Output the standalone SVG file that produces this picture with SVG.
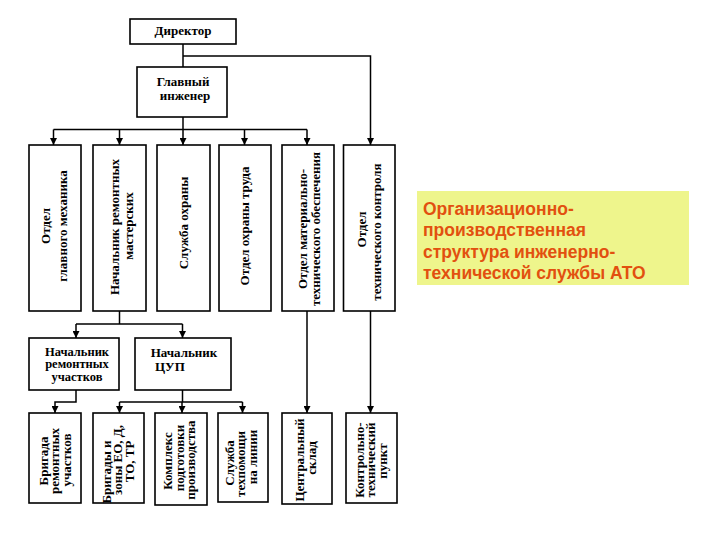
<svg xmlns="http://www.w3.org/2000/svg" width="720" height="540" viewBox="0 0 720 540">
<style>
.box{fill:#fff;stroke:#000;stroke-width:1.6}
.t{font-family:"Liberation Serif","Times New Roman",serif;font-weight:bold;font-size:13px;fill:#000;text-anchor:middle}
.ts{font-size:12.5px}
.ln{fill:none;stroke:#000;stroke-width:1.5}
.note{font-family:"Liberation Sans",Arial,sans-serif;font-weight:bold;font-size:17.5px;fill:#E2500F}
</style>
<defs>
<marker id="ah" markerUnits="userSpaceOnUse" markerWidth="7" markerHeight="7" refX="7" refY="3.5" orient="auto">
<path d="M0,0 L7,3.5 L0,7 z" fill="#000"/>
</marker>
</defs>
<rect width="720" height="540" fill="#fff"/>

<g id="connectors">
<path class="ln" d="M183,44 V67"/>
<path class="ln" d="M183,56 H370.5 V145" marker-end="url(#ah)"/>
<path class="ln" d="M183,117 V129.5"/>
<path class="ln" d="M53.5,129.5 H307"/>
<path class="ln" d="M53.5,129.5 V145" marker-end="url(#ah)"/>
<path class="ln" d="M119.5,129.5 V145" marker-end="url(#ah)"/>
<path class="ln" d="M183,129.5 V145" marker-end="url(#ah)"/>
<path class="ln" d="M244.5,129.5 V145" marker-end="url(#ah)"/>
<path class="ln" d="M307,129.5 V145" marker-end="url(#ah)"/>
<path class="ln" d="M119.5,311 V324 M76,324 H182.5"/>
<path class="ln" d="M76,324 V338" marker-end="url(#ah)"/>
<path class="ln" d="M182.5,324 V338" marker-end="url(#ah)"/>
<path class="ln" d="M76,390 V402 H55 V413" marker-end="url(#ah)"/>
<path class="ln" d="M182.5,390 V402 M119.5,402 H242.5"/>
<path class="ln" d="M119.5,402 V413" marker-end="url(#ah)"/>
<path class="ln" d="M182,402 V413" marker-end="url(#ah)"/>
<path class="ln" d="M242.5,402 V413" marker-end="url(#ah)"/>
<path class="ln" d="M307,311 V413" marker-end="url(#ah)"/>
<path class="ln" d="M370.5,311 V413" marker-end="url(#ah)"/>
</g>

<g id="director">
<rect class="box" x="130" y="19" width="106" height="25"/>
<text class="t" x="183" y="35">Директор</text>
</g>
<g id="chief-engineer">
<rect class="box" x="137" y="67" width="90" height="50"/>
<text class="t" x="183" y="86">Главный</text>
<text class="t" x="185" y="100">инженер</text>
</g>

<g id="dept-mechanic">
<rect class="box" x="29" y="145" width="52" height="166"/>
<text class="t" transform="translate(50,226) rotate(-90)">Отдел</text>
<text class="t" transform="translate(66.5,226) rotate(-90)">главного механика</text>
</g>
<g id="head-workshops">
<rect class="box" x="93" y="145" width="53" height="166"/>
<text class="t" transform="translate(118.5,227) rotate(-90)">Начальник ремонтных</text>
<text class="t" transform="translate(133,226) rotate(-90)">мастерских</text>
</g>
<g id="security">
<rect class="box" x="157" y="145" width="53" height="166"/>
<text class="t" transform="translate(188,223) rotate(-90)">Служба охраны</text>
</g>
<g id="labour-safety">
<rect class="box" x="219" y="145" width="52" height="166"/>
<text class="t" transform="translate(248.5,226) rotate(-90)">Отдел охраны труда</text>
</g>
<g id="supply">
<rect class="box" x="282" y="145" width="52" height="166"/>
<text class="t" transform="translate(307,229) rotate(-90)">Отдел материально-</text>
<text class="t" transform="translate(320,229) rotate(-90)">технического обеспечения</text>
</g>
<g id="quality-control">
<rect class="box" x="343.5" y="145" width="51.5" height="166"/>
<text class="t" transform="translate(366,229.5) rotate(-90)">Отдел</text>
<text class="t" transform="translate(380.5,232) rotate(-90)">технического контроля</text>
</g>

<g id="head-repair-sections">
<rect class="box" x="29" y="338" width="90" height="52"/>
<text class="t ts" x="77" y="355.5">Начальник</text>
<text class="t ts" x="77" y="368">ремонтных</text>
<text class="t ts" x="77" y="380.5">участков</text>
</g>
<g id="head-cup">
<rect class="box" x="135" y="338" width="96" height="52"/>
<text class="t" x="184" y="357">Начальник</text>
<text class="t" x="155" y="371" style="text-anchor:start">ЦУП</text>
</g>

<g id="repair-brigade">
<rect class="box" x="29" y="413" width="52" height="90"/>
<text class="t" transform="translate(47.5,461) rotate(-90)">Бригада</text>
<text class="t" transform="translate(59,461) rotate(-90)">ремонтных</text>
<text class="t" transform="translate(70.5,460) rotate(-90)">участков</text>
</g>
<g id="brigades-zones">
<rect class="box" x="93" y="413" width="51" height="90"/>
<text class="t" transform="translate(110.5,472) rotate(-90)">Бригады и</text>
<text class="t" transform="translate(122,460) rotate(-90)">зоны ЕО, Д,</text>
<text class="t" transform="translate(133.5,461.5) rotate(-90)">ТО, ТР</text>
</g>
<g id="prep-complex">
<rect class="box" x="155" y="413" width="52" height="92"/>
<text class="t" transform="translate(172,461) rotate(-90)">Комплекс</text>
<text class="t" transform="translate(183.5,458) rotate(-90)">подготовки</text>
<text class="t" transform="translate(195,460) rotate(-90)">производства</text>
</g>
<g id="tech-assist">
<rect class="box" x="218" y="413" width="50" height="89"/>
<text class="t" transform="translate(233.5,463) rotate(-90)">Служба</text>
<text class="t" transform="translate(245,464) rotate(-90)">техпомощи</text>
<text class="t" transform="translate(256.5,457) rotate(-90)">на линии</text>
</g>
<g id="central-warehouse">
<rect class="box" x="282" y="413" width="50" height="91"/>
<text class="t" transform="translate(303.5,460) rotate(-90)">Центральный</text>
<text class="t" transform="translate(316,458) rotate(-90)">склад</text>
</g>
<g id="control-point">
<rect class="box" x="346" y="413" width="51" height="90"/>
<text class="t" transform="translate(363.5,460) rotate(-90)">Контрольно-</text>
<text class="t" transform="translate(375,460) rotate(-90)">технический</text>
<text class="t" transform="translate(387,461) rotate(-90)">пункт</text>
</g>

<g id="title-note">
<rect x="417" y="191" width="272" height="94" fill="#EEF58C"/>
<text class="note" x="423" y="214.5">Организационно-</text>
<text class="note" x="423" y="236">производственная</text>
<text class="note" x="423" y="257.5">структура инженерно-</text>
<text class="note" x="423" y="279">технической службы АТО</text>
</g>
</svg>
